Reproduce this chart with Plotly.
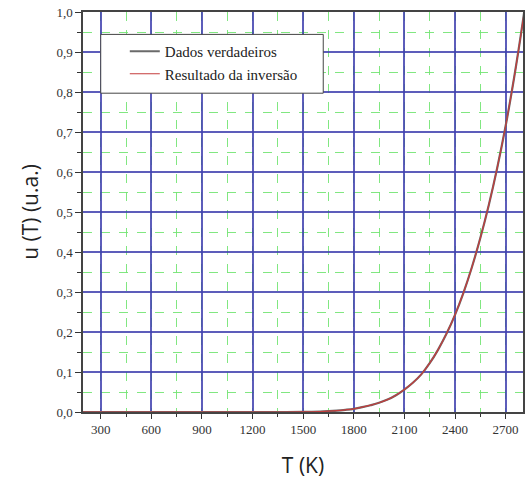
import plotly.graph_objects as go

# Temperature (K) and normalized energy density u(T)
temperature_K = [195, 300, 600, 900, 1200, 1400, 1500, 1550, 1600, 1650, 1700, 1750,
                 1800, 1850, 1900, 1950, 2000, 2050, 2100, 2150, 2200, 2250,
                 2300, 2350, 2400, 2450, 2500, 2550, 2600, 2650, 2700, 2750,
                 2800, 2810]
u_true = [0.0, 0.0, 0.0, 0.0, 0.0, 0.0, 0.0002, 0.0005, 0.001, 0.002, 0.0035, 0.0055,
          0.008, 0.012, 0.017, 0.023, 0.031, 0.042, 0.056, 0.073, 0.094, 0.122,
          0.156, 0.196, 0.243, 0.298, 0.362, 0.435, 0.517, 0.610, 0.715, 0.835,
          0.970, 1.0]
u_inversion = list(u_true)

series_names = ["Dados verdadeiros", "Resultado da inversão"]
series_colors = ["#6a6a6a", "#c43c3c"]

x_ticks = [300, 600, 900, 1200, 1500, 1800, 2100, 2400, 2700]

fig = go.Figure()
fig.add_trace(go.Scatter(x=temperature_K, y=u_true, mode="lines", name=series_names[0],
                         line=dict(color=series_colors[0], width=2.2, shape="spline")))
fig.add_trace(go.Scatter(x=temperature_K, y=u_inversion, mode="lines", name=series_names[1],
                         line=dict(color=series_colors[1], width=1.2, shape="spline")))

serif = "Times New Roman, Liberation Serif, serif"
tickfont = dict(family=serif, size=13, color="#333333")
titlefont = dict(family="Open Sans", size=21, color="#222222")
major_grid = "rgba(65,65,175,0.85)"
minor_grid = "rgba(115,228,115,0.9)"

# legend frame (drawn as a shape so its size matches the reference)
fig.add_shape(type="rect", xref="paper", yref="paper", x0=0.0403, x1=0.546, y0=0.797, y1=0.944,
              fillcolor="white", line=dict(color="#444444", width=1), layer="above")

fig.update_layout(
    width=526, height=480,
    margin=dict(l=83, r=3, t=12, b=68, autoexpand=False),
    paper_bgcolor="white", plot_bgcolor="white",
    separators=",.",
    showlegend=True,
    legend=dict(x=0.095, y=0.9425, xanchor="left", yanchor="top",
                bgcolor="rgba(0,0,0,0)", borderwidth=0,
                font=dict(family=serif, size=15, color="#222222"),
                tracegroupgap=0),
    xaxis=dict(
        range=[195, 2803], tickvals=x_ticks, tickfont=tickfont, automargin=True,
        ticklabeloverflow="allow",
        showgrid=True, gridcolor=major_grid, gridwidth=1.5,
        ticks="outside", ticklen=5, tickcolor="#333333", tickwidth=1,
        showline=True, linecolor="#444444", linewidth=1.5, mirror=True,
        zeroline=False,
        minor=dict(dtick=150, tick0=0, showgrid=True, gridcolor=minor_grid,
                   griddash="dash", gridwidth=1, ticks="outside", ticklen=3,
                   tickcolor="#333333"),
        title=dict(text="T (K)", font=titlefont, standoff=22),
    ),
    yaxis=dict(
        range=[0, 1.0], dtick=0.1, tick0=0, tickformat=".1f", tickfont=tickfont,
        automargin=True, ticklabeloverflow="allow",
        showgrid=True, gridcolor=major_grid, gridwidth=1.5,
        ticks="outside", ticklen=6, tickcolor="#333333", tickwidth=1,
        showline=True, linecolor="#444444", linewidth=1.5, mirror=True,
        zeroline=False,
        minor=dict(dtick=0.05, tick0=0, showgrid=True, gridcolor=minor_grid,
                   griddash="dash", gridwidth=1, ticks="outside", ticklen=4,
                   tickcolor="#333333"),
        title=dict(text="u (T) (u.a.)", font=titlefont, standoff=12),
    ),
)

fig.write_html("out.html", config={"displayModeBar": False},
               post_script="document.body.style.margin='0';document.body.style.overflow='hidden';")
